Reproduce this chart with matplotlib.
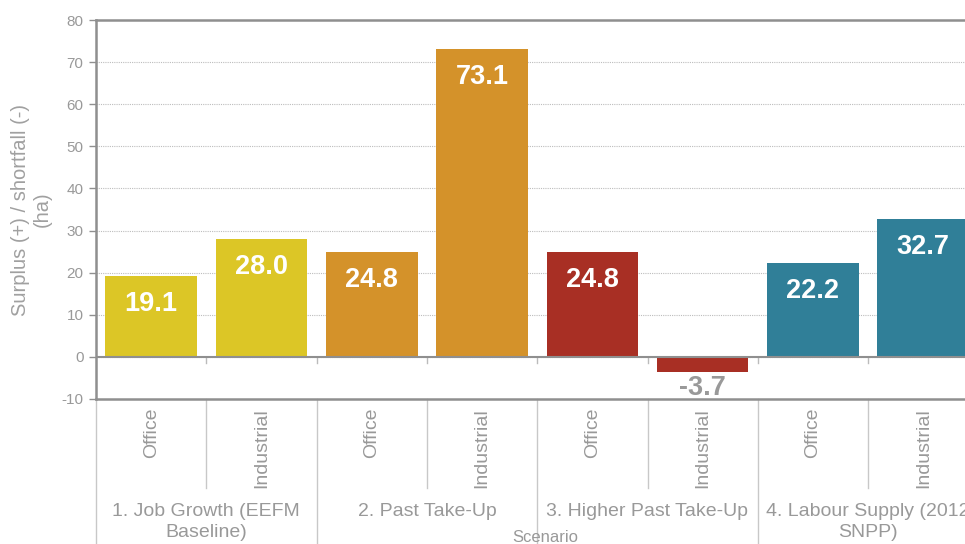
import matplotlib
matplotlib.use("Agg")
import matplotlib.pyplot as plt
from matplotlib.lines import Line2D

plt.rcParams['font.family'] = ['Liberation Sans', 'DejaVu Sans']

categories = ["Office", "Industrial", "Office", "Industrial",
              "Office", "Industrial", "Office", "Industrial"]
groups = ["1. Job Growth (EEFM\nBaseline)", "2. Past Take-Up",
          "3. Higher Past Take-Up", "4. Labour Supply (2012\nSNPP)"]
values = [19.1, 28.0, 24.8, 73.1, 24.8, -3.7, 22.2, 32.7]
group_colors = ["#DCC626", "#D4922A", "#A82F24", "#307F98"]
yticks = [-10, 0, 10, 20, 30, 40, 50, 60, 70, 80]
ylabel = "Surplus (+) / shortfall (-)\n(ha)"
xlabel = "Scenario"

GRAY = "#8f8f8f"
H = 379.0

fig = plt.figure(figsize=(9.65, 5.44), dpi=100)
ax = fig.add_axes([96/965, 145/544, 882.4/965, H/544])

colors = [group_colors[i // 2] for i in range(len(values))]
xs = list(range(len(values)))
bars = ax.bar(xs, values, width=0.83, color=colors, zorder=3)

ax.set_xlim(-0.5, len(values) - 0.5)
ax.set_ylim(-10, 80)
ax.set_yticks(yticks)
ax.set_yticklabels([str(t) for t in yticks], color="#999999", fontsize=11)
ax.tick_params(axis='y', length=5, color=GRAY, width=1, pad=4)
ax.set_xticks([])
for t in yticks[1:-1]:
    ax.axhline(t, color="#bdbdbd", lw=0.8, ls=(0, (1, 1)), zorder=1)
ax.axhline(0, color=GRAY, lw=1.5, zorder=4)

for s in ["left", "top", "bottom"]:
    ax.spines[s].set_color(GRAY)
    ax.spines[s].set_linewidth(1.8)
ax.spines["right"].set_visible(False)

ax.set_ylabel(ylabel, color="#a0a0a0", fontsize=14.5, labelpad=7)

# value labels
for x, v in zip(xs, values):
    if v >= 0:
        ax.annotate(f"{v:.1f}", (x, v), xytext=(0, -20), textcoords="offset points",
                    ha="center", va="center", color="white", fontsize=19.5,
                    fontweight="bold", zorder=5)
    else:
        ax.annotate(f"{v:.1f}", (x, v), xytext=(0, -11), textcoords="offset points",
                    ha="center", va="center", color="#999999", fontsize=19.5,
                    fontweight="bold", zorder=5)

trans = ax.get_xaxis_transform()

def fy(px):
    return -(px - 399) / H

# small ticks at zero line at category boundaries
for b in range(1, len(values)):
    ax.plot([b - 0.5, b - 0.5], [0, -1.4], color="#bbbbbb", lw=1, zorder=2, clip_on=False)

# separators below axis
for b in range(0, len(values) + 1):
    x = b - 0.5
    if b % 2 == 0:
        ax.add_line(Line2D([x, x], [0, fy(560)], transform=trans, color="#c8c8c8",
                           lw=1, clip_on=False))
    else:
        ax.add_line(Line2D([x, x], [0, fy(488)], transform=trans, color="#c8c8c8",
                           lw=1, clip_on=False))

for x, c in zip(xs, categories):
    ax.text(x, fy(408), c, transform=trans, rotation=90, ha="center", va="top",
            color="#999999", fontsize=14, clip_on=False)

for g, name in enumerate(groups):
    ax.text(2 * g + 0.5, fy(503), name, transform=trans, ha="center", va="top",
            color="#999999", fontsize=14, linespacing=1.3, clip_on=False)

ax.text(0.5 * (len(values) - 1) + 0.07, fy(530), xlabel, transform=trans, ha="center",
        va="top", color="#999999", fontsize=12, clip_on=False)

fig.savefig("out.png", dpi=100)
